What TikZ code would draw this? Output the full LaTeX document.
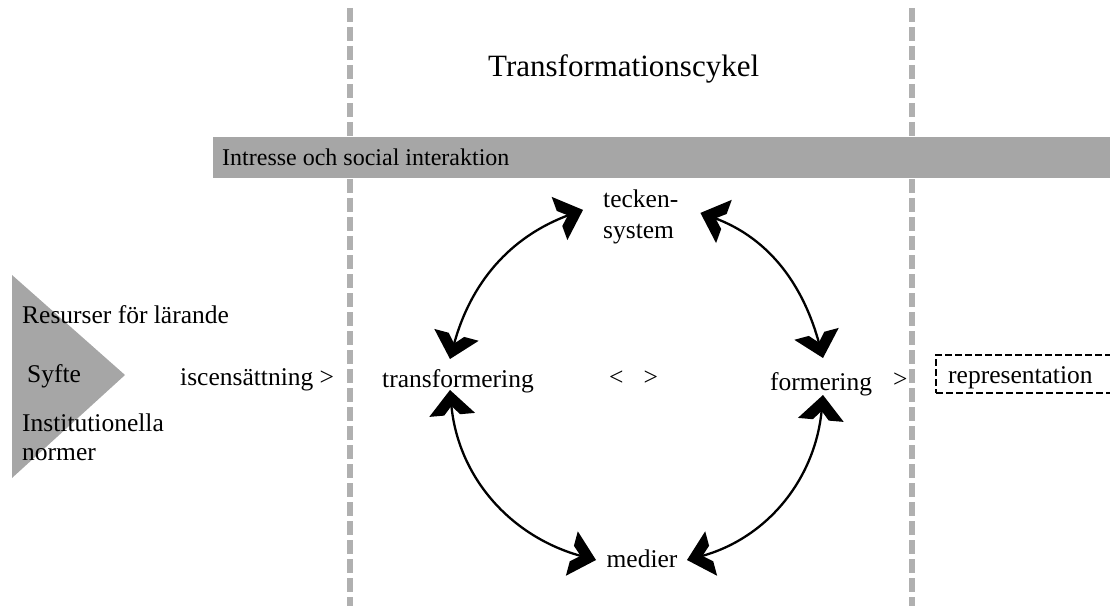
\documentclass[tikz,border=0pt]{standalone}
\usepackage{fontspec}
\setmainfont{Liberation Serif}
\usetikzlibrary{arrows.meta}
\definecolor{dashgray}{HTML}{B0B0B0}
\definecolor{bargray}{HTML}{A6A6A6}
\pgfdeclarearrow{
  name = Chev,
  setup code = {
    \pgfarrowssettipend{0pt}
    \pgfarrowssetlineend{-14pt}
    \pgfarrowssetbackend{-25pt}
    \pgfarrowsupperhullpoint{-25pt}{23pt}
    \pgfarrowshullpoint{0pt}{0pt}
  },
  drawing code = {
    \pgfpathmoveto{\pgfqpoint{0pt}{0pt}}
    \pgfpathlineto{\pgfqpoint{-25pt}{23pt}}
    \pgfpathlineto{\pgfqpoint{-25pt}{8pt}}
    \pgfpathlineto{\pgfqpoint{-16pt}{0pt}}
    \pgfpathlineto{\pgfqpoint{-25pt}{-8pt}}
    \pgfpathlineto{\pgfqpoint{-25pt}{-23pt}}
    \pgfpathclose
    \pgfusepathqfill
  }
}
\begin{document}
\begin{tikzpicture}[x=1pt,y=1pt,
  txt/.style={inner sep=0pt, font=\fontsize{25.5}{30}\selectfont},
  divider/.style={draw=dashgray, line width=6pt, dash pattern=on 14pt off 5pt},
  cyc/.style={line width=2.3pt, Chev-Chev},
  outbox/.style={draw=black, line width=2.4pt, dash pattern=on 7pt off 3pt, inner xsep=12pt, inner ysep=0pt,
    text width=160pt, align=left, minimum height=38pt, text height=24pt, text depth=6pt,
    font=\fontsize{25.5}{30}\selectfont},
]
\useasboundingbox (0,0) rectangle (1110,606);
\clip (0,0) rectangle (1110,606);
% vertical dividers
\coordinate (d1top) at (350,598); \coordinate (d1bot) at (350,0);
\coordinate (d2top) at (912,598); \coordinate (d2bot) at (912,0);
\draw[divider] (d1top) -- (d1bot);
\draw[divider] (d2top) -- (d2bot);
% interest bar
\node[fill=bargray, minimum width=897pt, minimum height=41pt, anchor=north west, inner sep=0pt] (bar) at (213,469) {};
\node[inner sep=0pt, anchor=base west, font=\fontsize{24}{28}\selectfont] (bartext) at (222,440) {Intresse och social interaktion};
% title
\node[inner sep=0pt, anchor=base west, font=\fontsize{31}{36}\selectfont] (title) at (488,529) {Transformationscykel};
% left triangle
\fill[bargray] (12,331) -- (125,231) -- (12,128) -- cycle;
\node[txt, anchor=base west] (res) at (22,283) {Resurser för lärande};
\node[txt, anchor=base west] (syfte) at (27,224) {Syfte};
\node[txt, anchor=base west, align=left, font=\fontsize{25.5}{29}\selectfont] (inst) at (22,146) {Institutionella\\normer};
\node[txt, anchor=base west] (isc) at (180,221) {iscensättning >};
% cycle nodes
\node[txt, anchor=base west, align=left, font=\fontsize{25.5}{31}\selectfont] (teck) at (603,367) {tecken-\\system};
\node[txt, anchor=base] (trans) at (458,219) {transformering};
\node[txt, anchor=base west] (ltgt) at (609,221) {<\hspace{20pt}>};
\node[txt, anchor=base] (form) at (821,216) {formering};
\node[txt, anchor=base west] (gt) at (893,219) {>};
\node[txt, anchor=base] (med) at (642,39) {medier};
\node[outbox, anchor=west] (rep) at (935,232) {representation};
% cycle arcs
\draw[cyc] ([shift={(-8,28)}]trans.base) to[out=75,in=200] ([shift={(-20,7.5)}]teck.west);
\draw[cyc] ([shift={(22,4.5)}]teck.east) to[out=-20,in=105] ([shift={(2,32)}]form.base);
\draw[cyc] ([shift={(-8,-3)}]trans.base) to[out=-85,in=165] ([shift={(-46,7)}]med.base);
\draw[cyc] ([shift={(45,7)}]med.base) to[out=15,in=-95] ([shift={(2,-5)}]form.base);
\end{tikzpicture}
\end{document}
